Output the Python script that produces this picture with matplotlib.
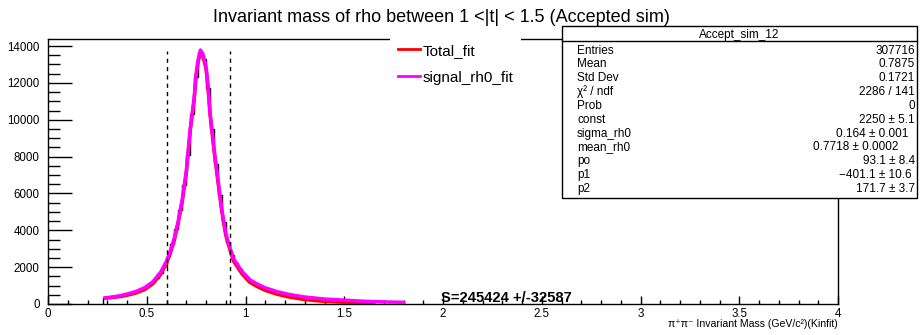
import numpy as np
import matplotlib
matplotlib.use("Agg")
import matplotlib.pyplot as plt
from matplotlib.patches import Rectangle
from matplotlib.ticker import MultipleLocator, FixedLocator, FixedFormatter

plt.rcParams['font.family'] = ['Liberation Sans', 'DejaVu Sans']

# histogram of pi+pi- invariant mass (bins of 0.02 GeV starting at 0.28)
hist_start = 0.28
hist_width = 0.02
hist_counts = [320, 350, 380, 410, 450, 510, 560, 620, 690, 770,
               880, 1010, 1180, 1400, 1700, 2080, 2600, 3250, 4080, 5100,
               6450, 8100, 10300, 12300, 13650, 13300, 11700, 9500, 7600, 5900,
               4450, 3350, 2650, 2200, 1900, 1650, 1450, 1270, 1120, 1000,
               900, 820, 750, 690, 630, 580, 540, 500, 460, 425,
               395, 365, 340, 315, 295, 275, 255, 240, 225, 210,
               198, 186, 175, 165, 155, 145, 137, 130, 123, 117,
               111, 105, 100, 96, 92, 88]

# fitted curves
sig_x = [0.29, 0.33, 0.37, 0.41, 0.45, 0.49, 0.53, 0.57, 0.60, 0.62, 0.64,
         0.66, 0.68, 0.70, 0.72, 0.74, 0.75, 0.76, 0.772, 0.785, 0.80, 0.81,
         0.82, 0.83, 0.84, 0.86, 0.88, 0.90, 0.92, 0.94, 0.98, 1.02, 1.06,
         1.10, 1.16, 1.22, 1.30, 1.40, 1.50, 1.60, 1.70, 1.80]
sig_y = [330, 390, 460, 570, 700, 890, 1200, 1720, 2330, 2900, 3600,
         4550, 5700, 7200, 9500, 11200, 12500, 13250, 13780, 13550, 12900, 11900,
         10450, 9500, 8500, 6800, 5150, 3850, 3100, 2450, 1800, 1330, 1080,
         880, 670, 520, 380, 270, 210, 150, 115, 90]
tot_x = [0.29, 0.33, 0.37, 0.41, 0.45, 0.49, 0.53, 0.57, 0.60, 0.62, 0.64,
         0.66, 0.68, 0.70, 0.72, 0.74, 0.75, 0.76, 0.772, 0.785, 0.80, 0.81,
         0.82, 0.83, 0.84, 0.86, 0.88, 0.90, 0.92, 0.94, 0.98, 1.02, 1.06,
         1.10, 1.16, 1.22, 1.30, 1.40, 1.50, 1.60, 1.65]
tot_y = [320, 360, 410, 500, 610, 790, 1090, 1600, 2210, 2780, 3480,
         4430, 5580, 7080, 9380, 11080, 12380, 13130, 13660, 13430, 12780, 11780,
         10330, 9380, 8380, 6680, 5030, 3730, 2980, 2320, 1670, 1190, 940,
         740, 530, 380, 240, 140, 90, 40, 20]

cut_lo = 0.60
cut_hi = 0.92
cut_top = 13730

x_ticks = [0, 0.5, 1, 1.5, 2, 2.5, 3, 3.5, 4]
x_tick_labels = ['0', '0.5', '1', '1.5', '2', '2.5', '3', '3.5', '4']

stat_title = "Accept_sim_12"
stat_names = ["Entries", "Mean", "Std Dev", "χ² / ndf", "Prob", "const",
              "sigma_rh0", "mean_rh0", "po", "p1", "p2"]
stat_values = ["307716", "0.7875", "0.1721", "2286 / 141", "0", "2250 ± 5.1",
               "0.164 ± 0.001", "0.7718 ± 0.0002", "93.1 ± 8.4", "−401.1 ± 10.6",
               "171.7 ± 3.7"]
# right edge of each value in pixels (ROOT does not line them up exactly)
stat_right_px = [915, 915, 915, 915, 915, 915, 908, 898, 915, 912, 915]

fig = plt.figure(figsize=(9.22, 3.35), dpi=100)
ax = fig.add_axes([48 / 922, 1 - 304 / 335, 790 / 922, 265 / 335])

edges = hist_start + hist_width * np.arange(len(hist_counts) + 1)
ax.stairs(hist_counts, edges, color='black', linewidth=1, zorder=2)
p1, = ax.plot(tot_x, tot_y, color='red', linewidth=2.5, label='Total_fit', zorder=3)
p2, = ax.plot(sig_x, sig_y, color='magenta', linewidth=2.5, label='signal_rh0_fit', zorder=4)
ax.vlines([cut_lo, cut_hi], 0, cut_top, colors='black', linestyles=(0, (3, 3)),
          linewidth=1, zorder=5)

ax.set_xlim(0, 4)
ax.set_ylim(0, 14380)
ax.xaxis.set_major_locator(FixedLocator(x_ticks))
ax.xaxis.set_major_formatter(FixedFormatter(x_tick_labels))
ax.xaxis.set_minor_locator(MultipleLocator(0.1))
ax.yaxis.set_major_locator(MultipleLocator(2000))
ax.yaxis.set_minor_locator(MultipleLocator(500))
ax.tick_params(axis='x', which='major', direction='in', length=6, width=1,
               labelsize=8.3, pad=3)
ax.tick_params(axis='x', which='minor', direction='in', length=3, width=1)
ax.tick_params(axis='y', which='major', direction='in', length=17, width=1,
               labelsize=8.3, pad=6)
ax.tick_params(axis='y', which='minor', direction='in', length=8.5, width=1)
for s in ax.spines.values():
    s.set_linewidth(1)

ax.text(1.99, 110, "S=245424 +/-32587", fontsize=10.6, fontweight='bold',
        ha='left', va='baseline', zorder=6)

fig.text(838 / 922, 1 - 324 / 335, "π⁺π⁻ Invariant Mass (GeV/c²)(Kinfit)",
         ha='right', va='center', fontsize=7.6)
fig.text(441 / 922, 1 - 17 / 335,
         "Invariant mass of rho between 1 <|t| < 1.5 (Accepted sim)",
         ha='center', va='center', fontsize=13)

leg = ax.legend(handles=[p1, p2], loc='upper left',
                bbox_to_anchor=(390 / 922, 1 - 36 / 335),
                bbox_transform=fig.transFigure, frameon=True, fancybox=False,
                fontsize=11, handlelength=1.45, handletextpad=0.2,
                labelspacing=0.85, borderpad=0.5, borderaxespad=0)
leg.get_frame().set_edgecolor('none')
leg.get_frame().set_facecolor('white')
leg.get_frame().set_alpha(1)
leg.set_zorder(10)
for ln in leg.get_lines():
    ln.set_linewidth(2)

# stats box
bx0, bx1 = 562 / 922, 917 / 922
by_top, by_head, by_bot = 1 - 26 / 335, 1 - 41 / 335, 1 - 198 / 335
box = Rectangle((bx0, by_bot), bx1 - bx0, by_top - by_bot, transform=fig.transFigure,
                facecolor='white', edgecolor='black', linewidth=1, zorder=20)
fig.add_artist(box)
fig.add_artist(plt.Line2D([bx0, bx1], [by_head, by_head], transform=fig.transFigure,
                          color='black', linewidth=1, zorder=21))
fig.text((bx0 + bx1) / 2, 1 - 38 / 335, stat_title, ha='center',
         va='baseline', fontsize=8.5, zorder=22)
first_base, last_base = 53.5, 192
row_step = (last_base - first_base) / (len(stat_names) - 1)
for i, (nm, val) in enumerate(zip(stat_names, stat_values)):
    yy = 1 - (first_base + row_step * i) / 335
    fig.text(577 / 922, yy, nm, ha='left', va='baseline', fontsize=8.5, zorder=22)
    fig.text(stat_right_px[i] / 922, yy, val, ha='right', va='baseline',
             fontsize=8.5, zorder=22)

fig.savefig('out.png', dpi=100)
